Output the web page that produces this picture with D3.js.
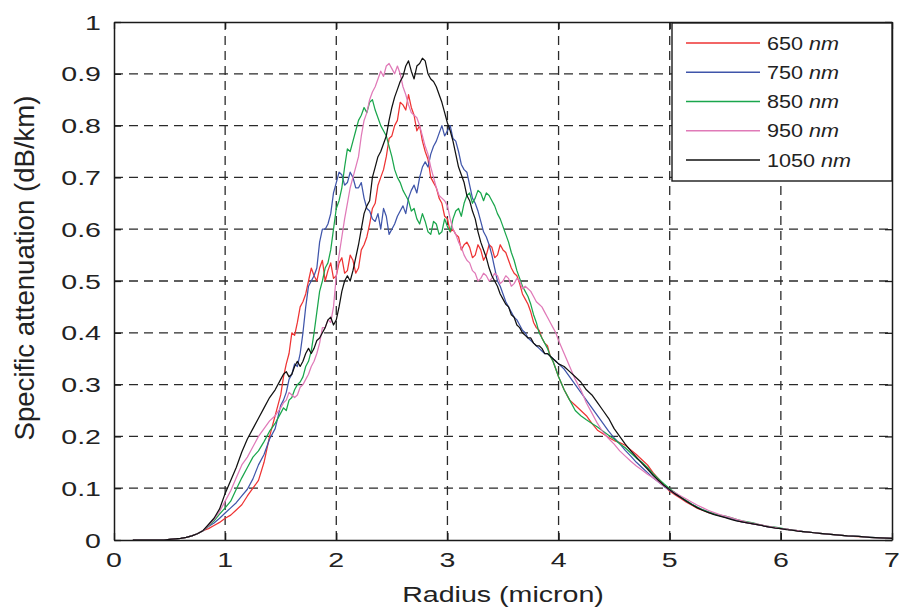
<!DOCTYPE html>
<html>
<head>
<meta charset="utf-8">
<script src="https://cdn.jsdelivr.net/npm/d3@7/dist/d3.min.js"></script>
<style>
  body { margin: 0; background: #fff; }
  svg { display: block; font-family: "Liberation Sans", Arial, Helvetica, sans-serif; }
</style>
</head>
<body>
<svg id="chart" width="899" height="610"></svg>
<script>
// Radius sample points (micron); denser sampling through the noisy core
const radius = [
  0.17, 0.2, 0.25, 0.3, 0.35, 0.4, 0.45, 0.5, 0.55, 0.6, 0.65, 0.7, 0.75, 0.8, 0.85, 0.9, 0.95,
  1.0, 1.05, 1.1, 1.15, 1.2, 1.25, 1.3, 1.35, 1.4, 1.45,
  1.5, 1.525, 1.55, 1.575, 1.6, 1.625, 1.65, 1.675, 1.7, 1.725, 1.75, 1.775, 1.8, 1.825, 1.85, 1.875, 1.9, 1.925, 1.95, 1.975,
  2.0, 2.025, 2.05, 2.075, 2.1, 2.125, 2.15, 2.175, 2.2, 2.225, 2.25, 2.275, 2.3, 2.325, 2.35, 2.375, 2.4, 2.425, 2.45, 2.475,
  2.5, 2.525, 2.55, 2.575, 2.6, 2.625, 2.65, 2.675, 2.7, 2.725, 2.75, 2.775, 2.8, 2.825, 2.85, 2.875, 2.9, 2.925, 2.95, 2.975,
  3.0, 3.025, 3.05, 3.075, 3.1, 3.125, 3.15, 3.175, 3.2, 3.225, 3.25, 3.275, 3.3, 3.325, 3.35, 3.375, 3.4, 3.425, 3.45, 3.475,
  3.5, 3.525, 3.55, 3.575, 3.6, 3.625, 3.65, 3.675, 3.7, 3.725, 3.75, 3.775, 3.8, 3.825, 3.85, 3.875, 3.9, 3.925, 3.95, 3.975,
  4.0, 4.05, 4.1, 4.15, 4.2, 4.25, 4.3, 4.35, 4.4, 4.45, 4.5, 4.55, 4.6, 4.65, 4.7, 4.75, 4.8, 4.85, 4.9, 4.95,
  5.0, 5.05, 5.1, 5.15, 5.2, 5.25, 5.3, 5.35, 5.4, 5.45, 5.5, 5.55, 5.6, 5.65, 5.7, 5.75, 5.8, 5.85, 5.9, 5.95,
  6.0, 6.05, 6.1, 6.15, 6.2, 6.25, 6.3, 6.35, 6.4, 6.45, 6.5, 6.55, 6.6, 6.65, 6.7, 6.75, 6.8, 6.85, 6.9, 6.95,
  7.0
];

// Specific attenuation (dB/km) per wavelength
const att650 = [
  0, 0, 0, 0, 0, 0, 0, 0.001, 0.002, 0.003, 0.005, 0.008, 0.012, 0.018, 0.022, 0.028, 0.034,
  0.042, 0.048, 0.058, 0.068, 0.085, 0.10, 0.115, 0.15, 0.20, 0.24,
  0.28, 0.315, 0.34, 0.36, 0.40, 0.395, 0.42, 0.45, 0.46, 0.475, 0.50, 0.525, 0.51, 0.50, 0.525, 0.54, 0.50, 0.52, 0.535, 0.505,
  0.51, 0.535, 0.545, 0.515, 0.52, 0.55, 0.54, 0.515, 0.525, 0.56, 0.57, 0.585, 0.61, 0.64, 0.65, 0.685, 0.70, 0.715, 0.74, 0.775,
  0.78, 0.80, 0.81, 0.845, 0.84, 0.83, 0.86, 0.835, 0.82, 0.79, 0.80, 0.77, 0.75, 0.735, 0.70, 0.69, 0.68, 0.66, 0.65, 0.625,
  0.62, 0.595, 0.60, 0.59, 0.585, 0.56, 0.57, 0.575, 0.565, 0.545, 0.55, 0.57, 0.56, 0.54, 0.55, 0.57, 0.565, 0.545, 0.55, 0.57,
  0.56, 0.555, 0.54, 0.525, 0.515, 0.51, 0.495, 0.475, 0.465, 0.455, 0.44, 0.42, 0.41, 0.405, 0.39, 0.38, 0.375, 0.355, 0.345, 0.33,
  0.315, 0.29, 0.27, 0.26, 0.25, 0.24, 0.225, 0.212, 0.205, 0.198, 0.192, 0.188, 0.183, 0.174, 0.165, 0.155, 0.145, 0.13, 0.118, 0.105,
  0.094, 0.087, 0.080, 0.073, 0.067, 0.061, 0.057, 0.053, 0.050, 0.047, 0.044, 0.041, 0.038, 0.035, 0.033, 0.031, 0.029, 0.027, 0.025, 0.024,
  0.022, 0.021, 0.019, 0.018, 0.016, 0.015, 0.014, 0.013, 0.012, 0.011, 0.010, 0.009, 0.008, 0.007, 0.0065, 0.006, 0.005, 0.0045, 0.004, 0.0035,
  0.003
];
const att750 = [
  0, 0, 0, 0, 0, 0, 0, 0.001, 0.002, 0.003, 0.005, 0.008, 0.012, 0.018, 0.026, 0.033, 0.042,
  0.052, 0.062, 0.072, 0.085, 0.098, 0.118, 0.145, 0.165, 0.195, 0.215,
  0.26, 0.27, 0.285, 0.31, 0.32, 0.34, 0.335, 0.36, 0.40, 0.45, 0.49, 0.50, 0.51, 0.525, 0.575, 0.60, 0.60, 0.61, 0.63, 0.67,
  0.69, 0.71, 0.705, 0.685, 0.69, 0.71, 0.70, 0.68, 0.68, 0.69, 0.66, 0.64, 0.635, 0.62, 0.615, 0.63, 0.60, 0.64, 0.625, 0.59,
  0.60, 0.61, 0.625, 0.635, 0.645, 0.63, 0.66, 0.675, 0.685, 0.67, 0.70, 0.72, 0.73, 0.72, 0.745, 0.76, 0.77, 0.785, 0.80, 0.78,
  0.79, 0.80, 0.775, 0.77, 0.75, 0.725, 0.715, 0.71, 0.685, 0.66, 0.65, 0.635, 0.615, 0.595, 0.585, 0.57, 0.55, 0.525, 0.50, 0.49,
  0.475, 0.46, 0.45, 0.44, 0.43, 0.425, 0.415, 0.405, 0.40, 0.39, 0.385, 0.38, 0.375, 0.37, 0.365, 0.36, 0.36, 0.355, 0.35, 0.345,
  0.34, 0.33, 0.315, 0.30, 0.285, 0.27, 0.255, 0.24, 0.225, 0.21, 0.197, 0.186, 0.173, 0.162, 0.15, 0.14, 0.13, 0.12, 0.112, 0.103,
  0.096, 0.089, 0.082, 0.075, 0.069, 0.063, 0.058, 0.054, 0.050, 0.047, 0.044, 0.041, 0.038, 0.035, 0.033, 0.031, 0.029, 0.027, 0.025, 0.024,
  0.022, 0.021, 0.019, 0.018, 0.016, 0.015, 0.014, 0.013, 0.012, 0.011, 0.010, 0.009, 0.008, 0.0075, 0.0068, 0.006, 0.0052, 0.0046, 0.004, 0.0035,
  0.003
];
const att850 = [
  0, 0, 0, 0, 0, 0, 0, 0.001, 0.002, 0.003, 0.005, 0.008, 0.012, 0.018, 0.027, 0.037, 0.05,
  0.062, 0.075, 0.098, 0.12, 0.14, 0.16, 0.172, 0.19, 0.21, 0.225,
  0.245, 0.255, 0.25, 0.27, 0.275, 0.29, 0.30, 0.305, 0.315, 0.335, 0.345, 0.365, 0.40, 0.44, 0.48, 0.50, 0.525, 0.535, 0.56, 0.60,
  0.64, 0.655, 0.68, 0.72, 0.755, 0.75, 0.77, 0.79, 0.81, 0.82, 0.835, 0.825, 0.845, 0.85, 0.83, 0.815, 0.80, 0.79, 0.78, 0.76,
  0.74, 0.715, 0.70, 0.69, 0.675, 0.665, 0.655, 0.635, 0.64, 0.62, 0.61, 0.63, 0.615, 0.595, 0.59, 0.615, 0.61, 0.59, 0.595, 0.62,
  0.605, 0.595, 0.62, 0.635, 0.64, 0.625, 0.65, 0.665, 0.67, 0.65, 0.66, 0.675, 0.67, 0.655, 0.67, 0.665, 0.655, 0.645, 0.63, 0.62,
  0.605, 0.59, 0.575, 0.555, 0.54, 0.52, 0.505, 0.49, 0.48, 0.47, 0.455, 0.435, 0.42, 0.40, 0.39, 0.38, 0.37, 0.355, 0.345, 0.33,
  0.315, 0.29, 0.27, 0.25, 0.24, 0.232, 0.225, 0.218, 0.21, 0.202, 0.195, 0.186, 0.178, 0.168, 0.158, 0.15, 0.14, 0.128, 0.118, 0.108,
  0.099, 0.091, 0.083, 0.076, 0.069, 0.063, 0.058, 0.054, 0.051, 0.048, 0.046, 0.043, 0.040, 0.037, 0.035, 0.033, 0.030, 0.028, 0.026, 0.025,
  0.023, 0.021, 0.019, 0.018, 0.016, 0.015, 0.014, 0.013, 0.012, 0.011, 0.010, 0.009, 0.008, 0.0075, 0.0068, 0.006, 0.0052, 0.0046, 0.004, 0.0035,
  0.003
];
const att950 = [
  0, 0, 0, 0, 0, 0, 0, 0.001, 0.002, 0.003, 0.005, 0.008, 0.012, 0.018, 0.028, 0.04, 0.055,
  0.075, 0.095, 0.12, 0.145, 0.16, 0.18, 0.20, 0.215, 0.23, 0.24,
  0.255, 0.265, 0.27, 0.285, 0.28, 0.275, 0.28, 0.295, 0.30, 0.31, 0.32, 0.335, 0.345, 0.36, 0.38, 0.41, 0.41, 0.425, 0.42, 0.45,
  0.51, 0.55, 0.585, 0.62, 0.65, 0.68, 0.70, 0.72, 0.74, 0.78, 0.81, 0.825, 0.85, 0.865, 0.875, 0.89, 0.905, 0.895, 0.915, 0.92,
  0.91, 0.90, 0.915, 0.90, 0.875, 0.86, 0.84, 0.825, 0.82, 0.815, 0.80, 0.78, 0.76, 0.745, 0.72, 0.70, 0.68, 0.665, 0.66, 0.655,
  0.645, 0.62, 0.60, 0.59, 0.575, 0.565, 0.55, 0.54, 0.535, 0.52, 0.515, 0.50, 0.505, 0.515, 0.51, 0.50, 0.505, 0.515, 0.51, 0.495,
  0.50, 0.51, 0.505, 0.49, 0.495, 0.505, 0.50, 0.485, 0.49, 0.485, 0.48, 0.47, 0.46, 0.455, 0.45, 0.44, 0.43, 0.42, 0.41, 0.40,
  0.385, 0.36, 0.335, 0.31, 0.29, 0.265, 0.245, 0.225, 0.208, 0.196, 0.185, 0.172, 0.162, 0.152, 0.143, 0.135, 0.127, 0.12, 0.112, 0.104,
  0.097, 0.091, 0.085, 0.079, 0.073, 0.067, 0.062, 0.057, 0.053, 0.049, 0.046, 0.043, 0.040, 0.037, 0.034, 0.032, 0.030, 0.028, 0.026, 0.024,
  0.022, 0.021, 0.019, 0.018, 0.016, 0.015, 0.014, 0.013, 0.012, 0.011, 0.010, 0.009, 0.008, 0.0075, 0.0068, 0.006, 0.0052, 0.0046, 0.004, 0.0035,
  0.003
];
const att1050 = [
  0, 0, 0, 0, 0, 0, 0, 0.001, 0.002, 0.003, 0.005, 0.008, 0.012, 0.018, 0.03, 0.042, 0.06,
  0.09, 0.115, 0.14, 0.17, 0.195, 0.215, 0.235, 0.255, 0.275, 0.29,
  0.31, 0.32, 0.325, 0.315, 0.32, 0.335, 0.345, 0.335, 0.345, 0.36, 0.37, 0.36, 0.37, 0.385, 0.39, 0.40, 0.41, 0.425, 0.43, 0.415,
  0.425, 0.45, 0.48, 0.50, 0.51, 0.50, 0.52, 0.545, 0.57, 0.60, 0.63, 0.645, 0.655, 0.70, 0.72, 0.74, 0.75, 0.765, 0.78, 0.81,
  0.835, 0.855, 0.87, 0.885, 0.895, 0.915, 0.925, 0.905, 0.89, 0.915, 0.92, 0.93, 0.925, 0.90, 0.89, 0.885, 0.875, 0.86, 0.845, 0.825,
  0.805, 0.79, 0.77, 0.745, 0.72, 0.705, 0.69, 0.665, 0.655, 0.635, 0.62, 0.595, 0.575, 0.56, 0.545, 0.525, 0.51, 0.50, 0.49, 0.475,
  0.465, 0.455, 0.45, 0.435, 0.43, 0.415, 0.41, 0.40, 0.395, 0.39, 0.39, 0.38, 0.375, 0.375, 0.37, 0.36, 0.36, 0.355, 0.35, 0.345,
  0.34, 0.335, 0.325, 0.315, 0.305, 0.29, 0.28, 0.265, 0.25, 0.235, 0.215, 0.2, 0.185, 0.172, 0.16, 0.148, 0.137, 0.125, 0.115, 0.105,
  0.097, 0.089, 0.082, 0.075, 0.068, 0.062, 0.057, 0.053, 0.049, 0.046, 0.043, 0.040, 0.037, 0.035, 0.033, 0.031, 0.029, 0.027, 0.025, 0.023,
  0.022, 0.020, 0.019, 0.017, 0.016, 0.015, 0.014, 0.013, 0.012, 0.011, 0.010, 0.009, 0.008, 0.0075, 0.0068, 0.006, 0.0052, 0.0046, 0.004, 0.0035,
  0.003
];

const wavelengths = ["650", "750", "850", "950", "1050"];
const seriesValues = [att650, att750, att850, att950, att1050];
const seriesColors = ["#ee3333", "#3f55aa", "#1aa64c", "#e07ab8", "#111111"];

const xTicks = [0, 1, 2, 3, 4, 5, 6, 7];
const yTicks = [0, 0.1, 0.2, 0.3, 0.4, 0.5, 0.6, 0.7, 0.8, 0.9, 1];
const yTickLabels = ["0", "0.1", "0.2", "0.3", "0.4", "0.5", "0.6", "0.7", "0.8", "0.9", "1"];

// Layout
const plot = { left: 114, right: 892, top: 22, bottom: 540 };
const textStretch = 1.36;

const svg = d3.select("#chart");
const x = d3.scaleLinear().domain([0, 7]).range([plot.left, plot.right]);
const y = d3.scaleLinear().domain([0, 1]).range([plot.bottom, plot.top]);

svg.append("rect").attr("width", 899).attr("height", 610).attr("fill", "#fff");

// Dashed grid
const grid = svg.append("g").attr("stroke", "#2a2a2a").attr("stroke-width", 1.3)
  .attr("stroke-dasharray", "9,6").attr("fill", "none");
grid.selectAll("line.v").data(xTicks.slice(1, -1)).join("line")
  .attr("x1", d => x(d)).attr("x2", d => x(d))
  .attr("y1", plot.bottom).attr("y2", plot.top);
grid.selectAll("line.h").data(yTicks.slice(1, -1)).join("line")
  .attr("y1", d => y(d)).attr("y2", d => y(d))
  .attr("x1", plot.left).attr("x2", plot.right);

// Curves
const line = d3.line().x((d, i) => x(radius[i])).y(d => y(d));
const curves = svg.append("g").attr("fill", "none").attr("stroke-width", 1.25)
  .attr("stroke-linejoin", "round");
seriesValues.forEach((vals, k) => {
  curves.append("path").datum(vals).attr("d", line).attr("stroke", seriesColors[k]);
});

// Axes box with inward ticks on all sides
function styleAxis(g) {
  g.selectAll("path.domain").attr("stroke", "#1a1a1a").attr("stroke-width", 1.5);
  g.selectAll(".tick line").attr("stroke", "#1a1a1a").attr("stroke-width", 1.3);
  g.selectAll(".tick text").remove();
}
svg.append("g").attr("transform", `translate(0,${plot.bottom})`)
  .call(d3.axisBottom(x).tickValues(xTicks).tickSize(-7).tickSizeOuter(0)).call(styleAxis);
svg.append("g").attr("transform", `translate(0,${plot.top})`)
  .call(d3.axisTop(x).tickValues(xTicks).tickSize(-7).tickSizeOuter(0)).call(styleAxis);
svg.append("g").attr("transform", `translate(${plot.left},0)`)
  .call(d3.axisLeft(y).tickValues(yTicks).tickSize(-7).tickSizeOuter(0)).call(styleAxis);
svg.append("g").attr("transform", `translate(${plot.right},0)`)
  .call(d3.axisRight(y).tickValues(yTicks).tickSize(-7).tickSizeOuter(0)).call(styleAxis);

// Tick labels
const labels = svg.append("g").attr("fill", "#222").attr("font-size", 21);
labels.selectAll("text.x").data(xTicks).join("text")
  .attr("transform", d => `translate(${x(d)},567) scale(${textStretch},1)`)
  .attr("text-anchor", "middle").text(d => d);
labels.selectAll("text.y").data(yTicks).join("text")
  .attr("transform", d => `translate(101,${y(d) + 7.5}) scale(${textStretch},1)`)
  .attr("text-anchor", "end").text((d, i) => yTickLabels[i]);

// Axis titles
svg.append("text").attr("fill", "#222").attr("font-size", 22)
  .attr("transform", `translate(503,602) scale(1.3,1)`)
  .attr("text-anchor", "middle").text("Radius (micron)");
svg.append("text").attr("fill", "#222").attr("font-size", 22)
  .attr("transform", `translate(34,268) rotate(-90) scale(1,1.25)`)
  .attr("text-anchor", "middle")
  .attr("textLength", 345).attr("lengthAdjust", "spacingAndGlyphs")
  .text("Specific attenuation (dB/km)");

// Legend
const legend = svg.append("g");
legend.append("rect").attr("x", 672).attr("y", 23).attr("width", 220).attr("height", 158)
  .attr("fill", "#fff").attr("stroke", "#1a1a1a").attr("stroke-width", 1.4);
const rowY = d3.scaleLinear().domain([0, 4]).range([43, 160]);
wavelengths.forEach((w, k) => {
  const yy = rowY(k);
  legend.append("line").attr("x1", 686).attr("x2", 760).attr("y1", yy).attr("y2", yy)
    .attr("stroke", seriesColors[k]).attr("stroke-width", 1.3);
  const t = legend.append("text").attr("fill", "#222").attr("font-size", 18)
    .attr("transform", `translate(767,${yy + 6.5}) scale(1.2,1)`);
  t.append("tspan").text(w + " ");
  t.append("tspan").attr("font-style", "italic").text("nm");
});
</script>
</body>
</html>
